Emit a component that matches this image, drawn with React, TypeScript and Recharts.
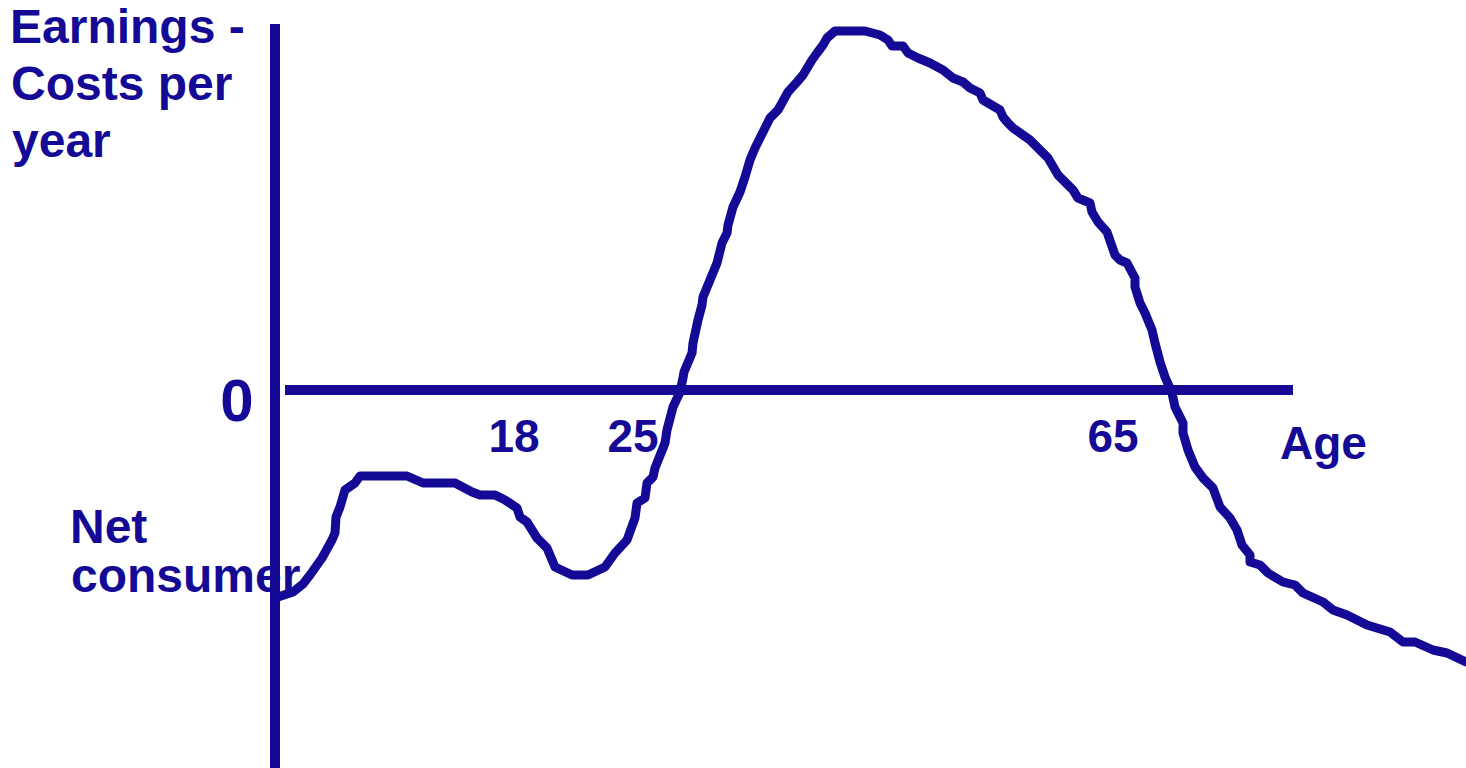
import React from "react";
import { LineChart, Line, XAxis, YAxis, ReferenceLine } from "recharts";

// Schematic lifecycle: horizontal position (schematic age units) and net value (earnings - costs)
const curveX = [
  278, 293, 303, 310, 322, 332, 335, 336, 340, 345, 355, 360, 407, 423, 455, 472, 480, 495, 505, 517,
  520, 527, 537, 547, 555, 572, 588, 605, 615, 627, 635, 637, 645, 647, 653, 655, 665, 667, 673, 680,
  683, 684, 692, 693, 698, 702, 703, 710, 717, 722, 727, 728, 733, 740, 745, 750, 755, 770, 778, 788,
  797, 803, 812, 817, 823, 827, 835, 865, 880, 888, 892, 903, 908, 918, 930, 943, 953, 963, 970, 980,
  983, 1000, 1003, 1008, 1013, 1030, 1048, 1058, 1073, 1078, 1090, 1092, 1098, 1107, 1115, 1120, 1127, 1135, 1135, 1140,
  1145, 1152, 1155, 1160, 1165, 1172, 1175, 1183, 1183, 1188, 1195, 1203, 1213, 1220, 1230, 1237, 1242, 1250, 1250, 1260,
  1268, 1283, 1295, 1303, 1323, 1333, 1347, 1367, 1390, 1403, 1415, 1433, 1447, 1466,
];
const curveValue = [
  -207, -202, -194, -185, -168, -150, -143, -127, -117, -100, -93, -86, -86, -93, -93, -102, -105, -105, -110, -118,
  -127, -132, -148, -158, -177, -185, -185, -177, -163, -150, -128, -113, -108, -93, -87, -78, -53, -40, -17, -2,
  12, 18, 37, 47, 70, 85, 93, 110, 127, 147, 157, 165, 183, 198, 213, 230, 242, 272, 280, 298,
  308, 315, 330, 337, 345, 352, 359, 359, 355, 350, 344, 344, 337, 332, 327, 320, 312, 308, 302, 297,
  290, 280, 273, 267, 262, 250, 232, 215, 200, 192, 187, 178, 168, 158, 135, 130, 127, 112, 103, 87,
  77, 60, 47, 28, 13, -3, -17, -33, -43, -60, -77, -88, -98, -117, -128, -140, -155, -165, -172, -175,
  -183, -192, -195, -203, -212, -220, -225, -235, -242, -252, -252, -260, -263, -272,
];

const zeroLineX = [285, 1293];
const verticalAxisX = 275;
const verticalAxisValues = [366, -378];

const titleLines = ["Earnings -", "Costs per", "year"];
const consumerLines = ["Net", "consumer"];
const ageTicks = ["18", "25", "65"];
const zeroLabel = "0";
const axisTitle = "Age";

const data = curveX.map((x, i) => ({ x, y: curveValue[i] }));

const COLOR = "#140A96";
const FONT = "'Liberation Sans', Arial, sans-serif";

export default function App() {
  return (
    <div style={{ position: "absolute", left: 0, top: 0, width: 1466, height: 768, background: "#fff" }}>
      <svg width={1466} height={768} style={{ position: "absolute", left: 0, top: 0 }}>
        <g fill={COLOR} fontFamily={FONT} fontWeight="bold" fontSize={48}>
          <text x={10} y={43}>{titleLines[0]}</text>
          <text x={11} y={100}>{titleLines[1]}</text>
          <text x={12} y={157}>{titleLines[2]}</text>
          <text x={70} y={543}>{consumerLines[0]}</text>
          <text x={71} y={592}>{consumerLines[1]}</text>
          <text x={514} y={452} textAnchor="middle" fontSize={46}>{ageTicks[0]}</text>
          <text x={633} y={452} textAnchor="middle" fontSize={46}>{ageTicks[1]}</text>
          <text x={1113} y={452} textAnchor="middle" fontSize={46}>{ageTicks[2]}</text>
          <text x={1280} y={459} fontSize={46}>{axisTitle}</text>
          <text x={237} y={421} textAnchor="middle" fontSize={60}>{zeroLabel}</text>
        </g>
      </svg>
      <div style={{ position: "absolute", left: 0, top: 0 }}>
        <LineChart width={1466} height={768} data={data} margin={{ top: 0, right: 0, bottom: 0, left: 0 }}>
          <XAxis type="number" dataKey="x" domain={[0, 1466]} hide allowDataOverflow />
          <YAxis type="number" domain={[-378, 390]} hide allowDataOverflow />
          <ReferenceLine
            segment={[{ x: zeroLineX[0], y: 0 }, { x: zeroLineX[1], y: 0 }]}
            stroke={COLOR}
            strokeWidth={10}
            ifOverflow="visible"
          />
          <ReferenceLine
            segment={[{ x: verticalAxisX, y: verticalAxisValues[0] }, { x: verticalAxisX, y: verticalAxisValues[1] }]}
            stroke={COLOR}
            strokeWidth={10}
            ifOverflow="visible"
          />
          <Line
            type="linear"
            dataKey="y"
            stroke={COLOR}
            strokeWidth={9}
            strokeLinejoin="round"
            strokeLinecap="round"
            dot={false}
            activeDot={false}
            isAnimationActive={false}
          />
        </LineChart>
      </div>
    </div>
  );
}
